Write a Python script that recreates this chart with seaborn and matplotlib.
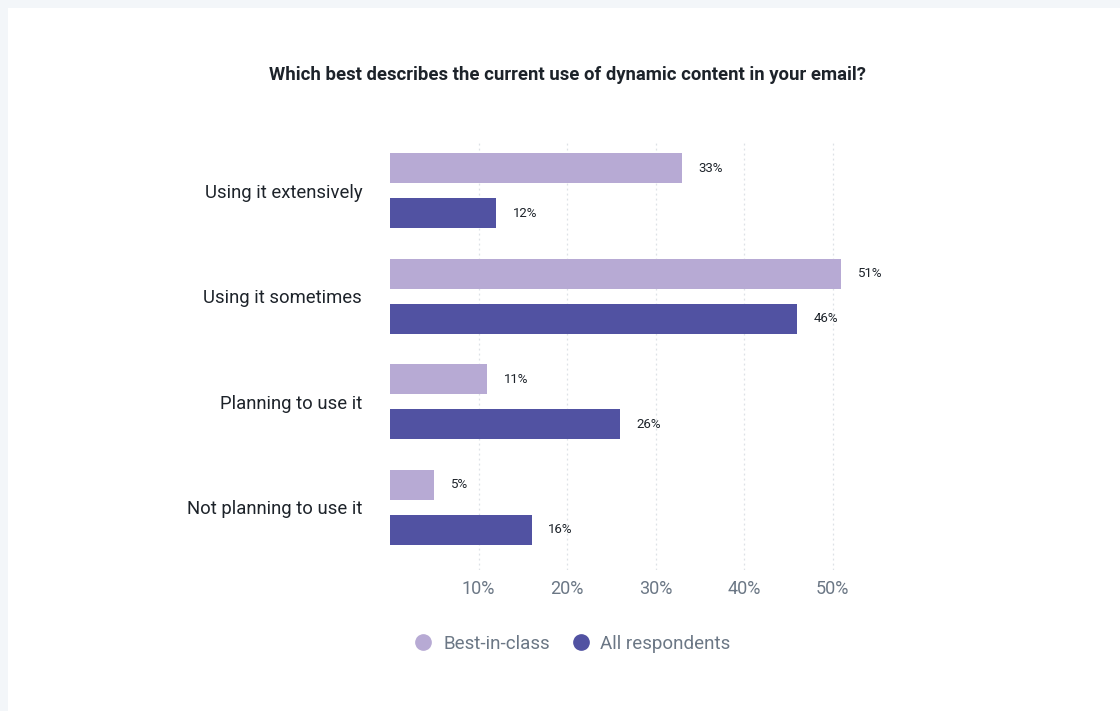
import matplotlib
matplotlib.use("Agg")
import matplotlib.pyplot as plt
from matplotlib.lines import Line2D
from matplotlib.patches import Rectangle
import seaborn as sns
import pandas as pd

categories = ["Using it extensively", "Using it sometimes", "Planning to use it", "Not planning to use it"]
best_in_class = [33, 51, 11, 5]
all_respondents = [12, 46, 26, 16]
series_names = ["Best-in-class", "All respondents"]
x_ticks = [10, 20, 30, 40, 50]
title = "Which best describes the current use of dynamic content in your email?"

colors = ["#b7aad4", "#5152a2"]
text_dark = "#1d232a"
text_gray = "#6b7785"

sns.set_theme(style="white")
plt.rcParams["font.family"] = ["Roboto", "DejaVu Sans"]

df = pd.DataFrame({
    "category": categories * 2,
    "value": best_in_class + all_respondents,
    "series": [series_names[0]] * 4 + [series_names[1]] * 4,
})

W, H = 1120, 711
fig = plt.figure(figsize=(W / 100, H / 100), dpi=100)
fig.patch.set_facecolor("#f3f6f9")
fig.patches.append(Rectangle((8 / W, 0), 1 - 8 / W, 1 - 8 / H, transform=fig.transFigure,
                             facecolor="white", edgecolor="none", zorder=-1))

# axes placed in pixel terms: x=0 at 390px, 8.85px per percent
left, top, bottom = 390, 140, 570
xmax = 56
ax = fig.add_axes([left / W, 1 - bottom / H, xmax * 8.85 / W, (bottom - top) / H])
ax.set_facecolor("none")

sns.barplot(data=df, y="category", x="value", hue="series", order=categories,
            hue_order=series_names, palette=colors, orient="h", width=0.853,
            gap=0.333, legend=False, ax=ax, saturation=1, linewidth=0)

ax.set_xlim(0, xmax)
ax.set_ylim(3.597, -0.479)
ax.set_xticks(x_ticks)
ax.set_xticklabels([f"{t}%" for t in x_ticks], fontsize=13, color=text_gray)
ax.tick_params(axis="x", length=0, pad=7.5)
ax.tick_params(axis="y", length=0, pad=20)
for lbl in ax.get_yticklabels():
    lbl.set_fontsize(13.3)
    lbl.set_color(text_dark)
    lbl.set_y(lbl.get_position()[1])
ax.set_xlabel("")
ax.set_ylabel("")
for t in x_ticks:
    ax.axvline(t, color="#dde1e6", lw=0.9, ls=(0, (1.5, 2.5)), zorder=0)
for s in ax.spines.values():
    s.set_visible(False)
ax.grid(False)

for cont in ax.containers:
    ax.bar_label(cont, labels=[f"{v:.0f}%" for v in cont.datavalues], padding=12,
                 fontsize=9.5, color=text_dark)

fig.text(567 / W, 1 - 75 / H, title, ha="center", va="center", fontsize=13.3,
         fontweight="bold", color=text_dark)

handles = [Line2D([], [], ls="", marker="o", markersize=11, color=c) for c in colors]
leg = fig.legend(handles, series_names, loc="center", bbox_to_anchor=(570 / W, 1 - 644 / H),
                 ncol=2, frameon=False, fontsize=13.5, handletextpad=0.3, columnspacing=0.9,
                 handlelength=1.5)
for t in leg.get_texts():
    t.set_color(text_gray)

fig.savefig("out.png", dpi=100)
